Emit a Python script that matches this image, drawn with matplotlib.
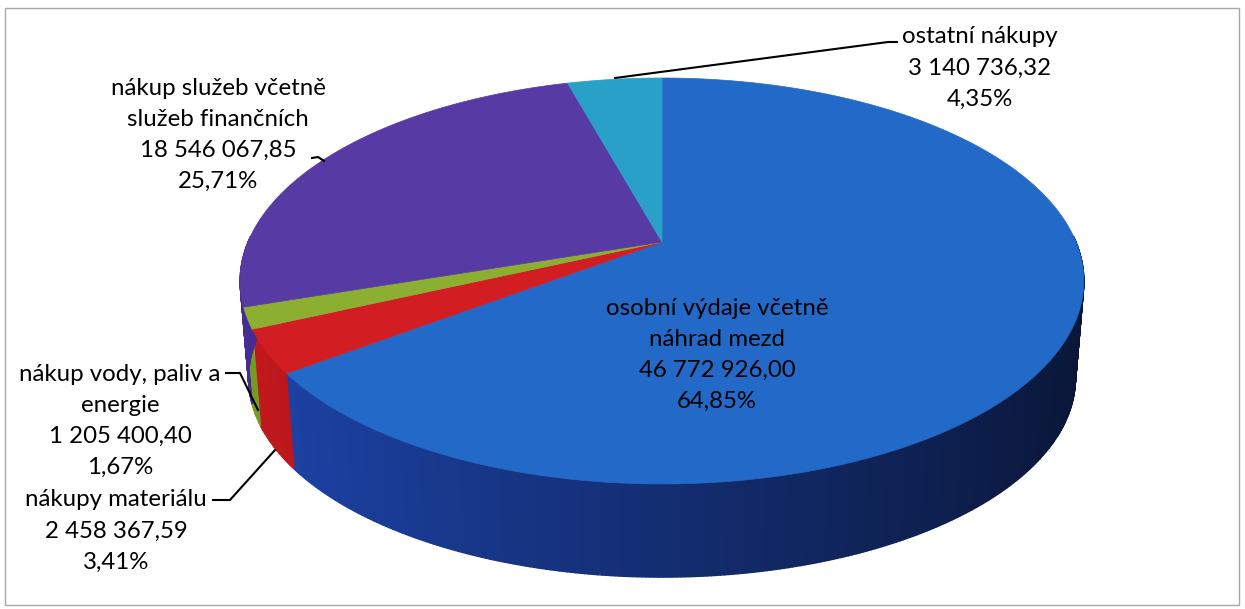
import numpy as np
import matplotlib.pyplot as plt
from matplotlib.patches import Polygon, Rectangle
import matplotlib.colors as mcolors

# data, clockwise from 12 o'clock
names = ["osobní výdaje včetně\nnáhrad mezd",
         "nákupy materiálu",
         "nákup vody, paliv a\nenergie",
         "nákup služeb včetně\nslužeb finančních",
         "ostatní nákupy"]
values = [46772926.00, 2458367.59, 1205400.40, 18546067.85, 3140736.32]

top_colors = ["#2369c8", "#d21e23", "#8caf32", "#583aa5", "#28a0c8"]
wall_colors = ["#1e46af", "#c8191e", "#78a023", "#462d96", "#1e82aa"]

# label layout (center x, center y) and leader polylines
label_pos = [(717, 355), (116, 531), (120, 421), (218, 135), (980, 68)]
leaders = [None,
           [(213, 500), (230, 500), (275, 450)],
           [(226, 373), (240, 373), (258, 410)],
           [(312, 158), (318, 157), (324, 161)],
           [(897, 42), (888, 42), (615, 78)]]

# pie geometry (pixels), simple perspective
cx, cy = 662, 242
A, B, k = 414, 195.5, 0.192
sb, dy = 0.98, 98

def top_pt(phi):
    w = 1 + k*np.sin(phi)
    return cx + A*np.cos(phi)/w, cy - B*np.sin(phi)/w

def bot_pt(phi):
    w = 1 + k*np.sin(phi)
    return cx + sb*A*np.cos(phi)/w, cy + dy - sb*B*np.sin(phi)/w

def fmt(v):
    return f"{v:,.2f}".replace(",", " ").replace(".", ",")

total = sum(values)
fracs = [v/total for v in values]
starts = [np.pi/2 - 2*np.pi*sum(fracs[:i]) for i in range(len(values))]
ends = [s - 2*np.pi*f for s, f in zip(starts, fracs)]

fig = plt.figure(figsize=(12.45, 6.09), dpi=100)
ax = fig.add_axes([0, 0, 1, 1])
ax.set_xlim(0, 1245)
ax.set_ylim(609, 0)
ax.axis('off')

ax.add_patch(Rectangle((5, 8), 1234, 597, fill=False, ec="#a8a8a8", lw=1.0))

# front walls only (back is hidden by the top face)
for i in range(len(values)):
    n = max(int(abs(starts[i]-ends[i])/np.radians(0.5)), 2)
    ph = np.linspace(starts[i], ends[i], n+1)
    for a, b in zip(ph[:-1], ph[1:]):
        mid = (a+b)/2
        if np.sin(mid) > 0.03:
            continue
        shade = 0.65 - 0.35*np.cos(mid)
        c = np.array(mcolors.to_rgb(wall_colors[i]))*shade
        pts = [top_pt(a), top_pt(b), bot_pt(b), bot_pt(a)]
        ax.add_patch(Polygon(pts, closed=True, fc=c, ec=c, lw=1.0))

# top face wedges
for i in range(len(values)):
    ph = np.linspace(starts[i], ends[i], 200)
    pts = [(cx, cy)] + [top_pt(p) for p in ph]
    ax.add_patch(Polygon(pts, closed=True, fc=top_colors[i], ec=top_colors[i], lw=0.5))

# labels
for i in range(len(values)):
    txt = f"{names[i]}\n{fmt(values[i])}\n{100*fracs[i]:.2f}%".replace(".", ",")
    x, y = label_pos[i]
    ax.text(x, y, txt, ha="center", va="center", fontsize=17.3,
            family=["Lato", "DejaVu Sans"], color="black", linespacing=1.6)
    if leaders[i]:
        xs, ys = zip(*leaders[i])
        ax.plot(xs, ys, color="black", lw=1.5)

fig.savefig("out.png", dpi=100)
